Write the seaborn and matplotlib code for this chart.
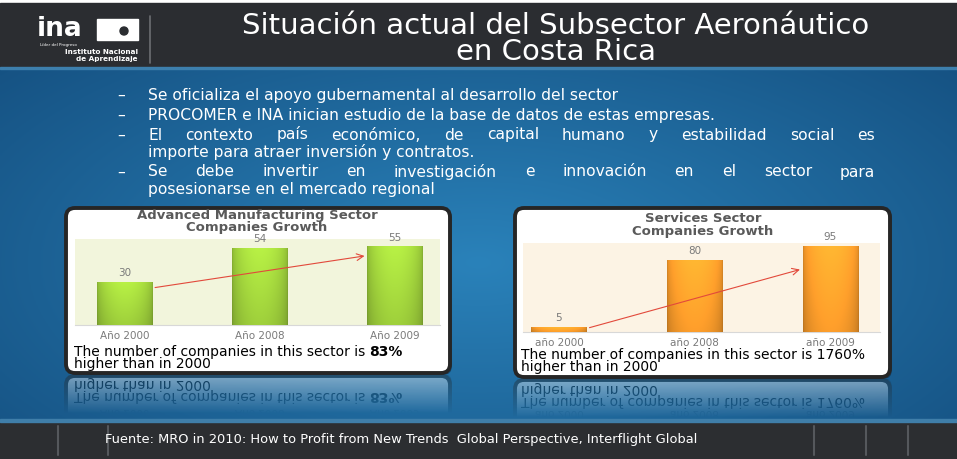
import numpy as np
import matplotlib
matplotlib.use("Agg")
import matplotlib.pyplot as plt
import seaborn as sns
from matplotlib.colors import to_rgb
from matplotlib.patches import FancyBboxPatch, Rectangle, Circle

# slide content
title_lines = ["Situación actual del Subsector Aeronáutico", "en Costa Rica"]
bullets = [
    ["Se oficializa el apoyo gubernamental al desarrollo del sector"],
    ["PROCOMER e INA inician estudio de la base de datos de estas empresas."],
    ["El contexto país económico, de capital humano y estabilidad social es",
     "importe para atraer inversión y contratos."],
    ["Se debe invertir en investigación e innovación en el sector para",
     "posesionarse en el mercado regional"],
]
source_note = ("Fuente: MRO in 2010: How to Profit from New Trends  "
               "Global Perspective, Interflight Global")

# chart data
manuf_title = ["Advanced Manufacturing Sector", "Companies Growth"]
manuf_years = ["Año 2000", "Año 2008", "Año 2009"]
manuf_counts = [30, 54, 55]
manuf_note = ["The number of companies in this sector is ", "higher than in 2000"]
manuf_bold = "83%"

serv_title = ["Services Sector", "Companies Growth"]
serv_years = ["año 2000", "año 2008", "año 2009"]
serv_counts = [5, 80, 95]
serv_note = ["The number of companies in this sector is 1760%", "higher than in 2000"]

W, H = 957, 459
sns.set_theme(style="white")
plt.rcParams["font.family"] = ["DejaVu Sans"]

fig = plt.figure(figsize=(W / 100, H / 100), dpi=100, facecolor="white")
bg = fig.add_axes([0, 0, 1, 1])
bg.axis("off")
renderer = fig.canvas.get_renderer()


def px_axes(x0, y0, x1, y1):
    return fig.add_axes([x0 / W, 1 - y1 / H, (x1 - x0) / W, (y1 - y0) / H])


def fit_size(s, width, **kw):
    t = bg.text(0, 0, s, fontsize=10, **kw)
    w = t.get_window_extent(renderer).width
    t.remove()
    return 10 * width / w


def spacing_for(step_px, size, **kw):
    # linespacing value that puts baselines step_px apart
    hs = []
    for s, ls in [("Ag", 1), ("Ag\nAg", 1), ("Ag\nAg", 2)]:
        t = bg.text(0, 0, s, fontsize=size, linespacing=ls, **kw)
        hs.append(t.get_window_extent(renderer).height)
        t.remove()
    a = hs[2] - hs[1]
    d = hs[1] - hs[0] - a
    return (step_px - d) / a


def justify(x0, x1, y, s, size, **kw):
    words = s.split()
    texts = [bg.text(0, y, w, fontsize=size, va="baseline", **kw) for w in words]
    widths = [t.get_window_extent(renderer).width for t in texts]
    gap = (x1 - x0 - sum(widths)) / (len(words) - 1)
    x = x0
    for t, w in zip(texts, widths):
        t.set_x(x)
        x += w + gap


def bar_image(color, n=60):
    base = np.array(to_rgb(color))
    u = np.linspace(0, 1, n)
    shade = 0.8 + 0.28 * np.sin(np.pi * u) ** 0.5
    v = np.linspace(1.1, 0.95, n)[:, None]
    img = base[None, None, :] * shade[None, :, None] * v[:, :, None]
    return np.clip(img, 0, 1)


bg.set_xlim(0, W)
bg.set_ylim(H, 0)

# blue body gradient
yy, xx = np.mgrid[0:1:200j, 0:1:400j]
r = np.clip(np.sqrt(((xx - 0.5) / 0.75) ** 2 + ((yy - 0.55) / 0.95) ** 2), 0, 1)
light, dark = np.array(to_rgb("#2a82ba")), np.array(to_rgb("#134c7c"))
body = light * (1 - r[..., None]) + dark * r[..., None]
bg.imshow(body, extent=[0, W, 422, 68], aspect="auto", zorder=0)

# header, footer
bg.add_patch(Rectangle((0, 3), W, 65, color="#2b2d31", zorder=1))
bg.add_patch(Rectangle((0, 67), W, 2, color="#3d7fad", zorder=1))
bg.add_patch(Rectangle((0, 422), W, 37, color="#2c2e31", zorder=1))
bg.add_patch(Rectangle((0, 419), W, 3, color="#3f7ea9", zorder=1))
for fx in [58, 108, 814, 866, 908]:
    bg.plot([fx, fx], [426, 455], color="#55585c", lw=1.5, zorder=2)

# logo
bg.text(37, 36, "ina", color="white", fontsize=19, fontweight="bold",
        va="baseline", zorder=3)
bg.add_patch(Rectangle((97, 19), 41, 21, color="white", zorder=3))
bg.add_patch(Circle((124, 31), 4, color="#2b2d31", zorder=4))
bg.text(40, 45, "Líder del Progreso", color="white", fontsize=3, va="center", zorder=3)
bg.text(138, 55, "Instituto Nacional\nde Aprendizaje", color="white", fontsize=5.2,
        fontweight="bold", ha="right", va="center", multialignment="right",
        linespacing=spacing_for(7, 5.2, fontweight="bold"), zorder=3)
bg.plot([150, 150], [16, 63], color="#6d6f73", lw=1.2, zorder=3)

# title
ts = 21
bg.text(556, 39, "\n".join(title_lines), color="white", fontsize=ts, ha="center",
        va="center", multialignment="center", linespacing=spacing_for(26, ts), zorder=3)

# bullets, first lines of a wrapped bullet are justified to the right margin
bs = 11.2
y = 95
for n, lines in enumerate(bullets):
    bg.text(117, y + 5, "–", color="white", fontsize=bs, va="baseline", zorder=3)
    for i, line in enumerate(lines):
        if i < len(lines) - 1:
            justify(148, 875, y + 5, line, bs, color="white", zorder=3)
        else:
            bg.text(148, y + 5, line, color="white", fontsize=bs, va="baseline", zorder=3)
        y += 17.5
    y += 2.5 if n == 0 else 2

# panels
panels = [(66, 208, 450, 373), (515, 208, 890, 377)]
for x0, y0, x1, y1 in panels:
    bg.add_patch(FancyBboxPatch((x0 + 2, y0 + 2), x1 - x0, y1 - y0,
                                boxstyle="round,pad=0,rounding_size=9",
                                fc="#0b2a45", ec="none", alpha=0.5, zorder=4))
    bg.add_patch(FancyBboxPatch((x0, y0), x1 - x0, y1 - y0,
                                boxstyle="round,pad=0,rounding_size=9",
                                fc="white", ec="#262626", lw=2.8, zorder=5))


def draw_chart(box, xlim, ylim_top, labels, counts, color, face, title, title_xy,
               note, note_xy, arrow_fracs, bold=""):
    ax = px_axes(*box)
    bw = 0.41
    sns.barplot(x=labels, y=counts, ax=ax, color=color, width=bw, saturation=1,
                edgecolor="none", zorder=2)
    img = bar_image(color)
    for p in ax.patches:
        ax.imshow(img, extent=[p.get_x(), p.get_x() + p.get_width(), 0, p.get_height()],
                  aspect="auto", zorder=3)
    ax.bar_label(ax.containers[0], padding=3, fontsize=7.5, color="#7a7a7a")
    ax.annotate("", xy=(2 - bw / 2, counts[2] * arrow_fracs[1]),
                xytext=(bw / 2, counts[0] * arrow_fracs[0]),
                arrowprops=dict(arrowstyle="->", color="#e2493b", lw=0.8), zorder=4)
    ax.set_xlim(*xlim)
    ax.set_ylim(0, ylim_top)
    ax.set_facecolor(face)
    ax.set_yticks([])
    ax.set_xlabel("")
    ax.set_ylabel("")
    ax.tick_params(axis="x", length=0, pad=4, labelsize=7.5, labelcolor="#7a7a7a")
    for side in ["top", "left", "right"]:
        ax.spines[side].set_visible(False)
    ax.spines["bottom"].set_color("#d8d8d8")
    ax.spines["bottom"].set_linewidth(0.8)

    cs = 9.5
    bg.text(title_xy[0], title_xy[1], "\n".join(title), fontsize=cs, fontweight="bold",
            color="#5a5a5a", ha="center", va="center", multialignment="center",
            linespacing=spacing_for(12, cs, fontweight="bold"), zorder=6)

    ns = 10
    step = 12.8
    nx, ny = note_xy
    t = bg.text(nx, ny, "\n".join(note), fontsize=ns, color="black", va="center",
                linespacing=spacing_for(step, ns), zorder=6)
    if bold:
        bb = t.get_window_extent(renderer)
        bg.text(nx + bb.width, ny - step / 2, bold, fontsize=ns, fontweight="bold",
                color="black", va="center", zorder=6)
    return ax


draw_chart((75, 239, 440, 325), (-0.367, 2.333), 60.6, manuf_years, manuf_counts,
           "#9bcb3a", "#f2f5dc", manuf_title, (257, 222), manuf_note,
           (74, 358), (0.87, 0.89), manuf_bold)
draw_chart((523, 243, 880, 332), (-0.265, 2.365), 99, serv_years, serv_counts,
           "#f79a2a", "#fcf3e4", serv_title, (703, 225), serv_note,
           (521, 361), (0.8, 0.74))

bg.text(105, 440, source_note, color="white", fontsize=fit_size(source_note, 590),
        va="center", zorder=3)

bg.set_xlim(0, W)
bg.set_ylim(H, 0)

# mirrored reflection of the lower part of each panel
fig.canvas.draw()
shot = np.asarray(fig.canvas.buffer_rgba()).astype(float) / 255
for x0, y0, x1, y1 in panels:
    top = y1 - 38
    crop = shot[top:y1 + 1, x0 - 2:x1 + 3].copy()[::-1]
    crop[..., 3] = np.linspace(0.42, 0.0, crop.shape[0])[:, None]
    bg.imshow(crop, extent=[x0 - 2, x1 + 3, y1 + 2 + crop.shape[0], y1 + 2],
              aspect="auto", zorder=2, interpolation="nearest")

bg.set_xlim(0, W)
bg.set_ylim(H, 0)
fig.savefig("out.png", dpi=100)
